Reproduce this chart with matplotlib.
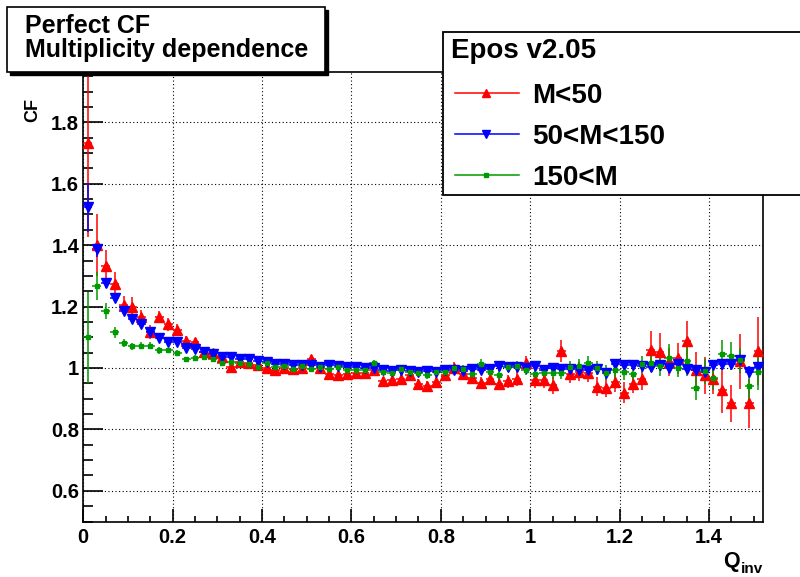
import numpy as np
import matplotlib
matplotlib.use("Agg")
import matplotlib.pyplot as plt
from matplotlib.patches import Rectangle
from matplotlib.lines import Line2D
from matplotlib.ticker import MultipleLocator, FormatStrFormatter, FuncFormatter

# ---------------- data ----------------
q_inv = np.round(np.arange(76) * 0.02 + 0.01, 3)
bin_half_width = 0.01

cf_low = [1.733, 1.40, 1.333, 1.272, 1.205, 1.200, 1.165, 1.118, 1.165, 1.142,
          1.125, 1.087, 1.083, 1.052, 1.048, 1.035, 1.003, 1.020, 1.015, 1.010,
          1.000, 0.995, 1.000, 0.997, 1.000, 1.030, 1.000, 0.980, 0.978, 0.980,
          0.985, 0.985, 0.993, 0.956, 0.960, 0.964, 0.978, 0.949, 0.941, 0.954,
          0.977, 1.000, 0.981, 0.968, 0.952, 0.965, 0.949, 0.956, 0.965, 1.015,
          0.960, 0.962, 0.943, 1.056, 0.980, 0.988, 0.983, 0.939, 0.936, 0.953,
          0.920, 0.947, 0.964, 1.059, 1.051, 1.020, 1.031, 1.088, 0.992, 0.976,
          0.965, 0.927, 0.885, 1.022, 0.885, 1.055]
err_low = [0.305, 0.10, 0.05, 0.04, 0.03, 0.03, 0.025, 0.022, 0.02, 0.02,
           0.018, 0.016, 0.015, 0.013, 0.012, 0.012, 0.011, 0.011, 0.011, 0.011,
           0.011, 0.011, 0.012, 0.012, 0.012, 0.012, 0.012, 0.013, 0.013, 0.013,
           0.014, 0.014, 0.014, 0.015, 0.015, 0.015, 0.016, 0.016, 0.017, 0.017,
           0.018, 0.018, 0.019, 0.02, 0.02, 0.021, 0.022, 0.022, 0.023, 0.024,
           0.025, 0.026, 0.027, 0.035, 0.03, 0.03, 0.03, 0.03, 0.03, 0.03,
           0.035, 0.03, 0.035, 0.06, 0.062, 0.045, 0.05, 0.065, 0.06, 0.06,
           0.05, 0.075, 0.06, 0.09, 0.08, 0.11]

cf_mid = [1.524, 1.387, 1.276, 1.227, 1.187, 1.159, 1.142, 1.116, 1.097, 1.083,
          1.084, 1.064, 1.061, 1.053, 1.045, 1.035, 1.035, 1.028, 1.028, 1.024,
          1.020, 1.014, 1.014, 1.011, 1.011, 1.009, 1.003, 1.009, 1.006, 1.003,
          1.003, 1.000, 1.000, 0.993, 0.990, 0.993, 0.990, 0.987, 0.990, 0.987,
          0.995, 0.993, 0.990, 0.998, 0.993, 0.998, 1.006, 1.003, 1.003, 1.000,
          1.005, 0.993, 1.000, 0.998, 0.996, 0.993, 0.993, 0.997, 0.984, 1.012,
          1.009, 1.011, 1.005, 1.003, 1.009, 1.000, 1.014, 0.996, 0.993, 0.987,
          1.009, 1.012, 1.012, 1.025, 0.987, 1.003]
err_mid = [0.08, 0.025, 0.015, 0.012, 0.01, 0.009, 0.008, 0.008, 0.007, 0.007,
           0.006, 0.006, 0.006, 0.005, 0.005, 0.005, 0.005, 0.005, 0.005, 0.005,
           0.005, 0.005, 0.005, 0.005, 0.005, 0.005, 0.005, 0.005, 0.005, 0.005,
           0.006, 0.006, 0.006, 0.006, 0.006, 0.006, 0.006, 0.007, 0.007, 0.007,
           0.007, 0.007, 0.008, 0.008, 0.008, 0.008, 0.009, 0.009, 0.009, 0.009,
           0.01, 0.01, 0.01, 0.01, 0.011, 0.011, 0.011, 0.012, 0.012, 0.012,
           0.013, 0.013, 0.013, 0.014, 0.014, 0.015, 0.015, 0.016, 0.016, 0.017,
           0.017, 0.018, 0.018, 0.019, 0.02, 0.02]

cf_high = [1.100, 1.268, 1.186, 1.117, 1.080, 1.070, 1.073, 1.073, 1.057, 1.057,
           1.050, 1.029, 1.034, 1.037, 1.030, 1.015, 1.018, 1.017, 1.013, 1.002,
           1.016, 1.003, 1.005, 0.998, 1.008, 0.998, 1.003, 0.998, 1.004, 0.992,
           0.992, 0.992, 1.016, 0.987, 0.984, 0.996, 0.987, 0.985, 0.977, 0.988,
           0.988, 1.000, 0.996, 0.982, 1.014, 0.986, 0.977, 1.003, 1.005, 0.995,
           0.982, 0.983, 0.984, 0.984, 1.002, 1.008, 1.016, 1.000, 0.985, 0.992,
           0.987, 0.981, 1.012, 1.016, 1.005, 1.033, 1.001, 1.023, 0.936, 0.989,
           0.968, 1.047, 1.038, 1.025, 0.941, 0.987]
err_high = [0.148, 0.046, 0.025, 0.018, 0.013, 0.012, 0.011, 0.01, 0.01, 0.009,
            0.009, 0.008, 0.008, 0.008, 0.008, 0.008, 0.008, 0.008, 0.008, 0.008,
            0.008, 0.008, 0.008, 0.009, 0.009, 0.009, 0.009, 0.009, 0.01, 0.01,
            0.01, 0.01, 0.011, 0.011, 0.011, 0.012, 0.012, 0.012, 0.013, 0.013,
            0.014, 0.014, 0.015, 0.015, 0.016, 0.016, 0.017, 0.017, 0.018, 0.018,
            0.019, 0.02, 0.02, 0.021, 0.022, 0.022, 0.023, 0.024, 0.025, 0.025,
            0.026, 0.027, 0.028, 0.028, 0.03, 0.045, 0.03, 0.05, 0.04, 0.04,
            0.04, 0.045, 0.045, 0.04, 0.05, 0.06]

series_labels = ["M<50", "50<M<150", "150<M"]
legend_header = "Epos v2.05"
title_lines = ["Perfect CF", "Multiplicity dependence"]
x_ticks = [0, 0.2, 0.4, 0.6, 0.8, 1.0, 1.2, 1.4]
y_ticks = [0.6, 0.8, 1.0, 1.2, 1.4, 1.6, 1.8]

# ---------------- style ----------------
W, H = 800, 577
FONT = "Liberation Sans"
plt.rcParams["font.family"] = [FONT, "DejaVu Sans"]
plt.rcParams["font.weight"] = "bold"

fig = plt.figure(figsize=(W / 100, H / 100), dpi=100)

def fx(px):
    return px / W

def fy(py):
    return 1 - py / H

ax_l, ax_r, ax_t, ax_b = 83.3, 762.6, 72.3, 521.5
ax = fig.add_axes([fx(ax_l), fy(ax_b), fx(ax_r) - fx(ax_l), fy(ax_t) - fy(ax_b)])
ax.set_xlim(0, 1.52)
ax.set_ylim(0.5, 1.963)

colors = ["#ff0000", "#0000ff", "#009900"]
markers = ["^", "v", "s"]
msizes = [7, 7, 3.4]
data = [(cf_low, err_low), (cf_mid, err_mid), (cf_high, err_high)]

for (vals, errs), c, m, ms in zip(data, colors, markers, msizes):
    ax.errorbar(q_inv, vals, yerr=errs, xerr=bin_half_width, fmt=m, color=c,
                ms=ms, mec=c, mfc=c, elinewidth=1.1, capsize=0, zorder=3)

# grid
ax.grid(True, which="major", color="black", linestyle=(0, (1, 2.2)), linewidth=0.8)
ax.set_axisbelow(True)

# ticks
ax.xaxis.set_major_locator(MultipleLocator(0.2))
ax.xaxis.set_minor_locator(MultipleLocator(0.05))
ax.yaxis.set_major_locator(MultipleLocator(0.2))
ax.yaxis.set_minor_locator(MultipleLocator(0.05))
fmt = FuncFormatter(lambda v, p: "%g" % round(v, 3))
ax.xaxis.set_major_formatter(fmt)
ax.yaxis.set_major_formatter(fmt)
ax.set_xticks(x_ticks)
ax.set_yticks(y_ticks)
ax.tick_params(axis="both", which="both", direction="in", top=False, right=False,
               color="black", width=1.2)
ax.tick_params(axis="y", which="major", length=14.5, pad=3, labelsize=14.5)
ax.tick_params(axis="y", which="minor", length=7)
ax.tick_params(axis="x", which="major", length=9.5, pad=5, labelsize=14.5)
ax.tick_params(axis="x", which="minor", length=4.5)
for lab in ax.get_xticklabels() + ax.get_yticklabels():
    lab.set_fontweight("bold")
for s in ax.spines.values():
    s.set_linewidth(1.2)
    s.set_color("black")

# axis titles
fig.text(fx(33), fy(110), "CF", rotation=90, ha="center", va="center",
         fontsize=13, fontweight="bold")
fig.text(fx(740), fy(567), "Q", ha="right", va="baseline", fontsize=15.5, fontweight="bold")
fig.text(fx(741), fy(573), "inv", ha="left", va="baseline", fontsize=11, fontweight="bold")

# title box with shadow
tb_l, tb_t, tb_r, tb_b = 7, 7, 325, 72
sh = 3
fig.patches.append(Rectangle((fx(tb_l + sh), fy(tb_b + sh)), fx(tb_r) - fx(tb_l), fy(tb_t) - fy(tb_b),
                             transform=fig.transFigure, facecolor="black", edgecolor="black", zorder=5))
fig.patches.append(Rectangle((fx(tb_l), fy(tb_b)), fx(tb_r) - fx(tb_l), fy(tb_t) - fy(tb_b),
                             transform=fig.transFigure, facecolor="white", edgecolor="black",
                             linewidth=1.2, zorder=6))
fig.text(fx(25), fy(33), title_lines[0], ha="left", va="baseline", fontsize=18,
         fontweight="bold", zorder=7)
fig.text(fx(25), fy(57), title_lines[1], ha="left", va="baseline", fontsize=18,
         fontweight="bold", zorder=7)

# legend box
lg_l, lg_t, lg_r, lg_b = 443, 32, 810, 195
fig.patches.append(Rectangle((fx(lg_l), fy(lg_b)), fx(lg_r) - fx(lg_l), fy(lg_t) - fy(lg_b),
                             transform=fig.transFigure, facecolor="white", edgecolor="black",
                             linewidth=1.3, zorder=6, clip_on=False))
fig.text(fx(451), fy(58), legend_header, ha="left", va="baseline", fontsize=20,
         fontweight="bold", zorder=7)
row_y = [93, 134, 175]
for lab, c, m, ms, ry in zip(series_labels, colors, markers, msizes, row_y):
    ln = Line2D([fx(455), fx(519)], [fy(ry), fy(ry)], transform=fig.transFigure,
                color=c, linewidth=1.1, zorder=7)
    fig.lines.append(ln)
    mk = Line2D([fx(486)], [fy(ry)], transform=fig.transFigure, marker=m, color=c,
                markersize=ms + (0 if m == "s" else -1), linestyle="none", zorder=8)
    fig.lines.append(mk)
    fig.text(fx(532), fy(ry), lab, ha="left", va="center_baseline", fontsize=20,
             fontweight="bold", zorder=7)

fig.savefig("out.png", dpi=100)
